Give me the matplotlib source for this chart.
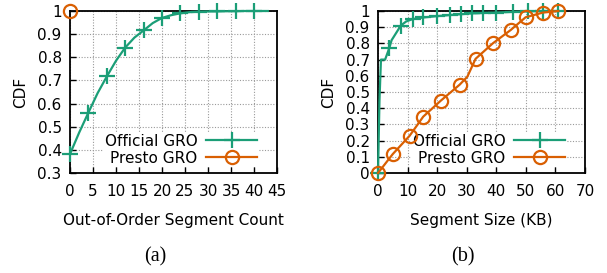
import numpy as np
import matplotlib
matplotlib.use('Agg')
import matplotlib.pyplot as plt
from matplotlib.ticker import FuncFormatter

# ── Data ──────────────────────────────────────────────────
# (a) out-of-order segment count
count_x = [0, 2, 4, 6, 8, 10, 12, 14, 16, 18, 20, 22, 24, 26, 28, 30, 32,
           34, 36, 38, 40, 42, 43]
count_official = [0.382, 0.475, 0.561, 0.645, 0.717, 0.785, 0.842, 0.885,
                  0.916, 0.948, 0.970, 0.982, 0.990, 0.995, 0.997, 0.998,
                  0.998, 0.999, 0.999, 1.0, 1.0, 1.0, 1.0]
count_presto_x = [0]
count_presto = [1.0]

# (b) segment size (KB)
size_official_x = [0, 0.5, 1.0, 2.4, 3.8, 4.6, 5.3, 7.7, 9.5, 11.7, 15.3,
                   19.8, 24.3, 27.9, 31.7, 35.6, 39.9, 45.8, 50.8, 55.9, 61]
size_official = [0, 0.45, 0.70, 0.70, 0.77, 0.82, 0.84, 0.91, 0.935, 0.95,
                 0.96, 0.968, 0.975, 0.98, 0.985, 0.988, 0.99, 0.995, 0.998,
                 1.0, 1.0]
size_presto_x = [0, 5.0, 10.7, 15.3, 21.2, 27.6, 30.2, 33.0, 38.8, 44.9,
                 49.9, 55.7, 61]
size_presto = [0, 0.117, 0.23, 0.348, 0.446, 0.545, 0.594, 0.705, 0.80,
               0.883, 0.961, 0.99, 1.0]

GREEN = '#1b9e77'
ORANGE = '#d95f02'
FS = 11

plt.rcParams['font.family'] = 'DejaVu Sans'
plt.rcParams['font.size'] = FS

fig = plt.figure(figsize=(6.07, 2.73), dpi=100)
W, H = 607, 273


def add_axes(x0):
    # axes box in pixel coords: 207 x 162, top at y=11
    return fig.add_axes([x0 / W, (H - 173) / H, 207 / W, 162 / H])


def style(ax):
    ax.set_axisbelow(True)
    ax.grid(True, linestyle=(0, (1, 1.5)), color='#9a9a9a', linewidth=0.8)
    for s in ax.spines.values():
        s.set_linewidth(1.3)
    ax.tick_params(direction='in', length=4, width=1, labelsize=FS,
                   top=False, right=False)
    ax.tick_params(axis='x', pad=8)
    ax.tick_params(axis='y', pad=6)
    ax.set_ylabel('CDF', fontsize=FS, labelpad=7)


def legend(ax):
    leg = ax.legend(loc='lower right', bbox_to_anchor=(0.91, 0.035),
                    markerfirst=False, handlelength=3.3, handletextpad=0.6,
                    labelspacing=0.15, borderpad=0.1, borderaxespad=0,
                    frameon=True, facecolor='white', edgecolor='none',
                    framealpha=1, fancybox=False, fontsize=FS)
    leg.set_zorder(1)


line_kw = dict(linewidth=1.6, markeredgewidth=1.6, clip_on=False)

# ── (a) ───────────────────────────────────────────────────
ax1 = add_axes(70)
style(ax1)
ax1.plot(count_x, count_official, color=GREEN, marker='+', markersize=12,
         markevery=list(range(0, 21, 2)), label='Official GRO', zorder=3,
         **line_kw)
ax1.plot(count_presto_x, count_presto, color=ORANGE, marker='o',
         markersize=9.5, markerfacecolor='none', label='Presto GRO', zorder=3,
         **line_kw)
ax1.set_xlim(0, 45)
ax1.set_ylim(0.3, 1.0)
ax1.set_xticks(np.arange(0, 46, 5))
ax1.set_yticks(np.arange(0.3, 1.001, 0.1))
ax1.yaxis.set_major_formatter(FuncFormatter(lambda v, p: '%g' % round(v, 1)))
ax1.set_xlabel('Out-of-Order Segment Count', fontsize=FS, labelpad=10)
legend(ax1)

# ── (b) ───────────────────────────────────────────────────
ax2 = add_axes(378)
style(ax2)
ax2.plot(size_official_x, size_official, color=GREEN, marker='+',
         markersize=12, markevery=[0, 4, 7] + list(range(9, 21)),
         label='Official GRO', zorder=3, **line_kw)
ax2.plot(size_presto_x, size_presto, color=ORANGE, marker='o',
         markersize=9.5, markerfacecolor='none',
         markevery=[0, 1, 2, 3, 4, 5, 7, 8, 9, 10, 11, 12],
         label='Presto GRO', zorder=3, **line_kw)
ax2.set_xlim(0, 70)
ax2.set_ylim(0, 1.0)
ax2.set_xticks(np.arange(0, 71, 10))
ax2.set_yticks(np.arange(0, 1.001, 0.1))
ax2.yaxis.set_major_formatter(FuncFormatter(lambda v, p: '%g' % round(v, 1)))
ax2.set_xlabel('Segment Size (KB)', fontsize=FS, labelpad=10)
legend(ax2)

# ── Captions ──────────────────────────────────────────────
fig.text(155 / W, 1 - 257 / H, '(a)', ha='center', va='center',
         family='Liberation Serif', fontsize=14.5)
fig.text(463 / W, 1 - 257 / H, '(b)', ha='center', va='center',
         family='Liberation Serif', fontsize=14.5)

fig.savefig('out.png', dpi=100)
